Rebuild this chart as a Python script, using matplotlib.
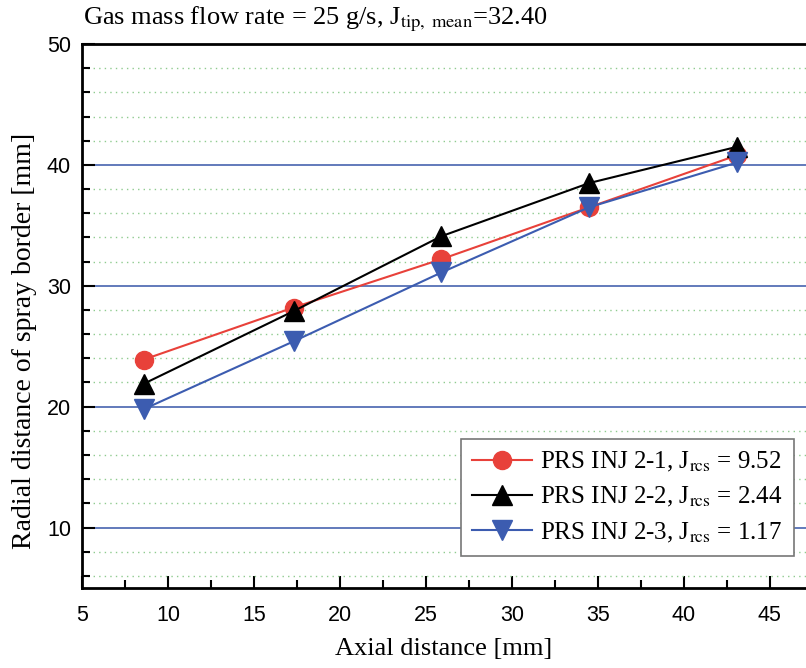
import matplotlib
matplotlib.use("Agg")
import matplotlib.pyplot as plt
from matplotlib.ticker import MultipleLocator

# data
axial = [8.6, 17.3, 25.9, 34.5, 43.1]
inj_21 = [23.9, 28.2, 32.2, 36.5, 40.8]
inj_22 = [21.9, 27.9, 34.1, 38.5, 41.5]
inj_23 = [19.8, 25.4, 31.1, 36.5, 40.2]
labels = [r"PRS INJ 2-1, J$_{\rm rcs}$ = 9.52",
          r"PRS INJ 2-2, J$_{\rm rcs}$ = 2.44",
          r"PRS INJ 2-3, J$_{\rm rcs}$ = 1.17"]
title = r"Gas mass flow rate = 25 g/s, J$_{\rm tip,\ mean}$=32.40"

plt.rcParams['mathtext.fontset'] = 'stix'
serif = 'Liberation Serif'

fig = plt.figure(figsize=(8.06, 6.68), dpi=100)
ax = fig.add_axes([82/806, 1-588/668, 1-82/806, (588-44)/668])

ax.plot(axial, inj_21, '-o', color='#e8413a', lw=1.5, ms=13, label=labels[0], zorder=3)
ax.plot(axial, inj_22, '-^', color='black', lw=1.5, ms=14, label=labels[1], zorder=4)
ax.plot(axial, inj_23, '-v', color='#3c5cb0', lw=1.5, ms=14, label=labels[2], zorder=5)

ax.set_xlim(5, 47.1)
ax.set_ylim(5, 50)
ax.xaxis.set_major_locator(MultipleLocator(5))
ax.xaxis.set_minor_locator(MultipleLocator(2.5))
ax.yaxis.set_major_locator(MultipleLocator(10))
ax.yaxis.set_minor_locator(MultipleLocator(2))

ax.grid(True, which='major', axis='y', color='#5570b5', lw=1.3, ls='-')
ax.grid(True, which='minor', axis='y', color='#8fcb8f', lw=1.0, ls=(0, (1, 3)))
ax.set_axisbelow(True)

ax.tick_params(which='both', direction='in', labelsize=15.5, width=1.5)
ax.tick_params(which='major', length=9)
ax.tick_params(which='minor', length=6)
ax.tick_params(axis='x', which='major', pad=12)
ax.tick_params(axis='y', which='major', pad=8)
ax.tick_params(axis='y', which='both', right=False)
for lab in ax.get_xticklabels() + ax.get_yticklabels():
    lab.set_fontfamily('Liberation Sans')
for s in ['left', 'bottom', 'top']:
    ax.spines[s].set_linewidth(2)
ax.spines['right'].set_visible(False)

ax.set_xlabel("Axial distance [mm]", fontsize=19, family=serif)
ax.xaxis.set_label_coords(0.5, -0.092)
ax.set_ylabel("Radial distance of spray border [mm]", fontsize=20, family=serif)
ax.yaxis.set_label_coords(-0.062, 0.455)

fig.text(83/806, 1-19/668, title, fontsize=19, family=serif, va='center', ha='left')

leg = ax.legend(loc='lower right', bbox_to_anchor=(0.983, 0.059), fancybox=False,
                edgecolor='#777777', framealpha=1, handlelength=2.4, handletextpad=0.3,
                prop={'family': serif, 'size': 18}, borderpad=0.45, labelspacing=0.45,
                borderaxespad=0)
leg.get_frame().set_linewidth(1.2)

fig.savefig("out.png", dpi=100)
